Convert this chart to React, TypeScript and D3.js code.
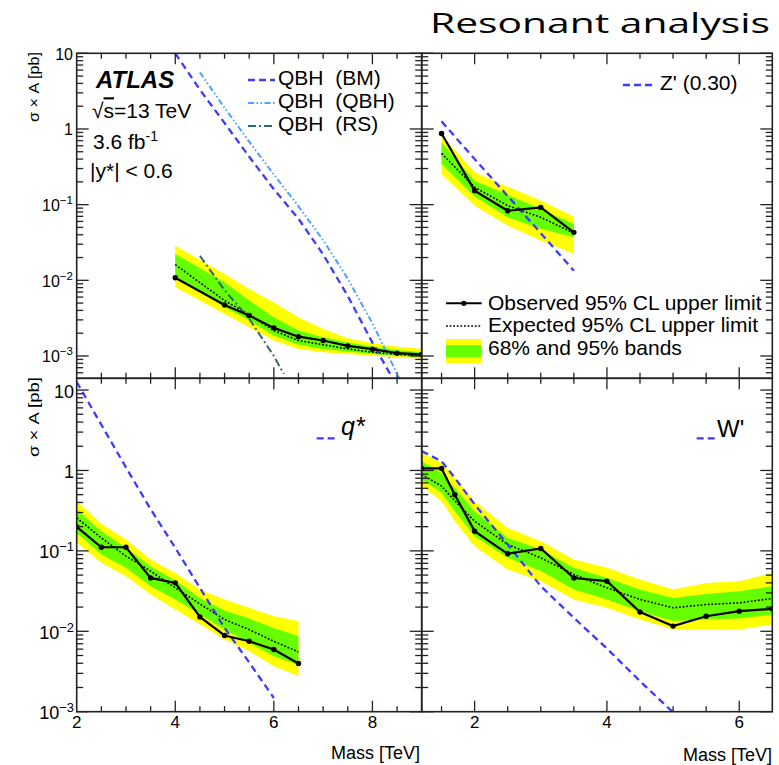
import React from 'react';
import * as d3 from 'd3';

// ---------------- data ----------------
// Top-left: QBH
const qbhMass = [4.0, 5.0, 5.5, 6.0, 6.5, 7.0, 7.5, 8.0, 8.5, 9.0];
const qbhObserved = [0.0108, 0.00473, 0.00342, 0.00235, 0.0018, 0.0016, 0.00136, 0.00123, 0.00109, 0.00105];
const qbhExpected = [0.0161, 0.0054, 0.00352, 0.00217, 0.0016, 0.00141, 0.00124, 0.00112, 0.00105, 0.001];
const qbhLo95 = [0.0081, 0.0036, 0.0024, 0.0016, 0.00124, 0.00112, 0.00106, 0.00101, 0.00096, 0.00091];
const qbhLo68 = [0.0115, 0.0044, 0.00295, 0.00186, 0.00141, 0.00124, 0.00115, 0.00106, 0.00101, 0.00096];
const qbhHi68 = [0.0223, 0.0094, 0.0054, 0.00324, 0.00217, 0.00177, 0.00151, 0.00133, 0.0012, 0.00112];
const qbhHi95 = [0.0287, 0.0121, 0.0077, 0.0051, 0.00324, 0.00228, 0.00171, 0.00147, 0.00133, 0.00124];
const qbhBMMass = [4.0, 4.5, 5.0, 5.5, 6.0, 6.5, 7.0, 7.5, 8.0, 8.4];
const qbhBM = [10, 3.3, 1.2, 0.43, 0.16, 0.065, 0.022, 0.0062, 0.0015, 0.00052];
const qbhQBHMass = [4.5, 5.0, 5.5, 6.0, 6.5, 7.0, 7.5, 8.0, 8.55];
const qbhQBH = [5.6, 1.9, 0.68, 0.25, 0.095, 0.034, 0.0105, 0.0027, 0.0005];
const qbhRSMass = [4.5, 5.0, 5.5, 6.0, 6.2];
const qbhRS = [0.021, 0.0074, 0.0031, 0.001, 0.00058];

// Top-right: Z'
const zMass = [1.5, 2.0, 2.5, 3.0, 3.5];
const zObserved = [0.87, 0.153, 0.083, 0.092, 0.043];
const zExpected = [0.476, 0.17, 0.097, 0.068, 0.042];
const zLo95 = [0.255, 0.097, 0.053, 0.0335, 0.0224];
const zLo68 = [0.344, 0.128, 0.068, 0.048, 0.037];
const zHi68 = [0.665, 0.207, 0.135, 0.0877, 0.0556];
const zHi95 = [0.83, 0.267, 0.173, 0.113, 0.069];
const zTheory = [1.26, 0.40, 0.13, 0.042, 0.0134];

// Bottom-left: q*
const qMass = [2.0, 2.5, 3.0, 3.5, 4.0, 4.5, 5.0, 5.5, 6.0, 6.5];
const qObserved = [0.199, 0.111, 0.111, 0.0461, 0.040, 0.0151, 0.00887, 0.00753, 0.00594, 0.00398];
const qExpected = [0.257, 0.145, 0.086, 0.056, 0.0347, 0.0219, 0.014, 0.0105, 0.0075, 0.00554];
const qLo95 = [0.126, 0.071, 0.0484, 0.0287, 0.0187, 0.0122, 0.0079, 0.00565, 0.00368, 0.00277];
const qLo68 = [0.167, 0.09, 0.0615, 0.0364, 0.0249, 0.0162, 0.0105, 0.00717, 0.0049, 0.0038];
const qHi68 = [0.327, 0.176, 0.109, 0.0645, 0.0428, 0.026, 0.0182, 0.0144, 0.011, 0.0087];
const qHi95 = [0.415, 0.217, 0.139, 0.078, 0.053, 0.033, 0.0249, 0.0196, 0.0154, 0.0134];
const qTheoryMass = [2.0, 2.5, 3.0, 3.5, 4.0, 4.5, 5.0, 5.5, 6.0];
const qTheory = [12.6, 3.7, 1.09, 0.33, 0.109, 0.0347, 0.011, 0.0041, 0.00148];

// Bottom-right: W'
const wMass = [1.2, 1.5, 1.7, 2.0, 2.5, 3.0, 3.5, 4.0, 4.5, 5.0, 5.5, 6.0, 6.5];
const wObserved = [1.06, 1.06, 0.50, 0.176, 0.092, 0.107, 0.046, 0.042, 0.0174, 0.0116, 0.0154, 0.0178, 0.019];
const wExpected = [0.89, 0.64, 0.42, 0.234, 0.12, 0.082, 0.051, 0.0347, 0.0249, 0.0196, 0.0215, 0.0226, 0.0256];
const wLo95 = [0.64, 0.415, 0.234, 0.114, 0.0587, 0.042, 0.0249, 0.0196, 0.014, 0.0105, 0.0105, 0.0105, 0.0122];
const wLo68 = [0.773, 0.527, 0.312, 0.152, 0.082, 0.056, 0.033, 0.0249, 0.0178, 0.0134, 0.014, 0.0144, 0.0162];
const wHi68 = [1.3, 0.93, 0.61, 0.312, 0.145, 0.104, 0.0615, 0.046, 0.033, 0.026, 0.029, 0.0315, 0.0364];
const wHi95 = [1.66, 1.24, 0.81, 0.415, 0.193, 0.132, 0.078, 0.0615, 0.044, 0.033, 0.04, 0.042, 0.053];
const wTheoryMass = [1.2, 1.5, 1.7, 2.0, 2.5, 3.0, 3.5, 4.0, 4.5, 5.0];
const wTheory = [1.74, 1.3, 0.81, 0.378, 0.12, 0.0364, 0.0147, 0.0061, 0.0024, 0.00098];

// axis ticks
const leftXMajor = [2, 4, 6, 8];
const rightXMajor = [2, 4, 6];
const topYDecades = [10, 1, 0.1, 0.01, 0.001];
const bottomYDecades = [10, 1, 0.1, 0.01, 0.001];

// ---------------- layout/style ----------------
const FONT = '"Liberation Sans", Arial, Helvetica, sans-serif';
const YELLOW = '#ffff00';
const GREEN = '#66ff00';
const BLUE = '#3c3cff';
const LIGHTBLUE = '#4aa2ff';
const TEAL = '#2f6a6a';
const FRAME = '#222';
const NB = '\u00a0';

const XL0 = 76.7, XMID = 421.7, XR1 = 772.3;
const YT0 = 53.3, YMID = 378.3, YB1 = 711.7;

const xLeft = d3.scaleLinear().domain([2, 9]).range([XL0, XMID]);
const xRight = d3.scaleLinear().domain([1.2, 6.5]).range([XMID, XR1]);
const yTop = d3.scaleLog().domain([5.07e-4, 10]).range([YMID, YT0]);
const yBot = d3.scaleLog().domain([1e-3, 14]).range([YB1, YMID]);

type S = (v: number) => number;

function area(xs: number[], lo: number[], hi: number[], sx: S, sy: S) {
  return d3.area<number>().x((_, i) => sx(xs[i])).y0((_, i) => sy(lo[i])).y1((_, i) => sy(hi[i]))(xs) || '';
}
function line(xs: number[], ys: number[], sx: S, sy: S) {
  return d3.line<number>().x((_, i) => sx(xs[i])).y((_, i) => sy(ys[i]))(xs) || '';
}

function Limits({ xs, obs, exp, lo95, lo68, hi68, hi95, sx, sy, children }: any) {
  return (
    <g>
      <path d={area(xs, lo95, hi95, sx, sy)} fill={YELLOW} />
      <path d={area(xs, lo68, hi68, sx, sy)} fill={GREEN} />
      <path d={line(xs, exp, sx, sy)} fill="none" stroke="#000" strokeWidth={1.6} strokeDasharray="1.8 1.8" />
      {children}
      <path d={line(xs, obs, sx, sy)} fill="none" stroke="#000" strokeWidth={2.2} />
      {xs.map((x: number, i: number) => (
        <circle key={i} cx={sx(x)} cy={sy(obs[i])} r={2.7} fill="#000" />
      ))}
    </g>
  );
}

function Ticks({ sx, sy, x0, x1, y0, y1, xMajor }: any) {
  const els: any[] = [];
  const [dx0, dx1] = sx.domain();
  for (let v = Math.ceil(dx0 * 2) / 2; v <= dx1 + 1e-9; v += 0.5) {
    const px = sx(v);
    if (Math.abs(px - x0) < 1 || Math.abs(px - x1) < 1) continue;
    const len = xMajor.includes(v) ? 11 : 5.5;
    els.push(<line key={'xb' + v} x1={px} x2={px} y1={y1} y2={y1 - len} />);
    els.push(<line key={'xt' + v} x1={px} x2={px} y1={y0} y2={y0 + len} />);
  }
  const [d0, d1] = sy.domain();
  for (let k = Math.floor(Math.log10(d0)); k <= Math.ceil(Math.log10(d1)); k++) {
    for (let j = 1; j <= 9; j++) {
      const v = j * Math.pow(10, k);
      if (v < d0 * 0.999 || v > d1 * 1.001) continue;
      const py = sy(v);
      const len = j === 1 ? 12 : 6.5;
      els.push(<line key={'yl' + k + '_' + j} x1={x0} x2={x0 + len} y1={py} y2={py} />);
      els.push(<line key={'yr' + k + '_' + j} x1={x1} x2={x1 - len} y1={py} y2={py} />);
    }
  }
  return <g stroke={FRAME} strokeWidth={1.3}>{els}</g>;
}

function YLabels({ sy, values, size, dy, xEnd }: any) {
  return (
    <g fontFamily={FONT} fontSize={size} fill="#000" textAnchor="end">
      {values.map((v: number) => {
        const k = Math.round(Math.log10(v));
        const y = sy(v) + dy;
        if (k === 0) return <text key={v} x={xEnd} y={y}>1</text>;
        if (k === 1) return <text key={v} x={xEnd} y={y}>10</text>;
        return (
          <text key={v} x={xEnd} y={y}>
            10<tspan dy={-7} fontSize={size * 0.72}>{'\u2212' + -k}</tspan>
          </text>
        );
      })}
    </g>
  );
}

function XLabels({ sx, values }: any) {
  return (
    <g fontFamily={FONT} fontSize={17} fill="#000" textAnchor="middle">
      {values.map((v: number) => (
        <text key={v} x={sx(v)} y={728}>{v}</text>
      ))}
    </g>
  );
}

function Frame({ x0, x1, y0, y1 }: any) {
  return <rect x={x0} y={y0} width={x1 - x0} height={y1 - y0} fill="none" stroke={FRAME} strokeWidth={1.6} />;
}

export default function App() {
  const dash = '7 4.5';
  return (
    <svg width={779} height={765} style={{ position: 'absolute', left: 0, top: 0, background: '#fff' }}>
      <defs>
        <clipPath id="cTL"><rect x={XL0} y={YT0} width={XMID - XL0} height={YMID - YT0} /></clipPath>
        <clipPath id="cTR"><rect x={XMID} y={YT0} width={XR1 - XMID} height={YMID - YT0} /></clipPath>
        <clipPath id="cBL"><rect x={XL0} y={YMID} width={XMID - XL0} height={YB1 - YMID} /></clipPath>
        <clipPath id="cBR"><rect x={XMID} y={YMID} width={XR1 - XMID} height={YB1 - YMID} /></clipPath>
      </defs>

      <text x={430} y={33} fontFamily='"Open Sans", "Noto Sans", sans-serif' fontSize={28}
        textLength={340} lengthAdjust="spacingAndGlyphs" fill="#000">Resonant analysis</text>

      {/* Top-left: QBH */}
      <g clipPath="url(#cTL)">
        <Limits xs={qbhMass} obs={qbhObserved} exp={qbhExpected} lo95={qbhLo95} lo68={qbhLo68}
          hi68={qbhHi68} hi95={qbhHi95} sx={xLeft} sy={yTop}>
          <path d={line(qbhRSMass, qbhRS, xLeft, yTop)} fill="none" stroke={TEAL} strokeWidth={2} strokeDasharray="8 3 2 3" />
          <path d={line(qbhQBHMass, qbhQBH, xLeft, yTop)} fill="none" stroke={LIGHTBLUE} strokeWidth={2} strokeDasharray="6 2.5 1.5 2.5 1.5 2.5" />
          <path d={line(qbhBMMass, qbhBM, xLeft, yTop)} fill="none" stroke={BLUE} strokeWidth={2.3} strokeDasharray={dash} />
        </Limits>
      </g>

      {/* Top-right: Z' */}
      <g clipPath="url(#cTR)">
        <Limits xs={zMass} obs={zObserved} exp={zExpected} lo95={zLo95} lo68={zLo68}
          hi68={zHi68} hi95={zHi95} sx={xRight} sy={yTop}>
          <path d={line(zMass, zTheory, xRight, yTop)} fill="none" stroke={BLUE} strokeWidth={2.3} strokeDasharray={dash} />
        </Limits>
      </g>

      {/* Bottom-left: q* */}
      <g clipPath="url(#cBL)">
        <Limits xs={qMass} obs={qObserved} exp={qExpected} lo95={qLo95} lo68={qLo68}
          hi68={qHi68} hi95={qHi95} sx={xLeft} sy={yBot}>
          <path d={line(qTheoryMass, qTheory, xLeft, yBot)} fill="none" stroke={BLUE} strokeWidth={2.3} strokeDasharray={dash} />
        </Limits>
      </g>

      {/* Bottom-right: W' */}
      <g clipPath="url(#cBR)">
        <Limits xs={wMass} obs={wObserved} exp={wExpected} lo95={wLo95} lo68={wLo68}
          hi68={wHi68} hi95={wHi95} sx={xRight} sy={yBot}>
          <path d={line(wTheoryMass, wTheory, xRight, yBot)} fill="none" stroke={BLUE} strokeWidth={2.3} strokeDasharray={dash} />
        </Limits>
      </g>

      {/* ticks & frames */}
      <Ticks sx={xLeft} sy={yTop} x0={XL0} x1={XMID} y0={YT0} y1={YMID} xMajor={leftXMajor} />
      <Ticks sx={xRight} sy={yTop} x0={XMID} x1={XR1} y0={YT0} y1={YMID} xMajor={rightXMajor} />
      <Ticks sx={xLeft} sy={yBot} x0={XL0} x1={XMID} y0={YMID} y1={YB1} xMajor={leftXMajor} />
      <Ticks sx={xRight} sy={yBot} x0={XMID} x1={XR1} y0={YMID} y1={YB1} xMajor={rightXMajor} />
      <Frame x0={XL0} x1={XMID} y0={YT0} y1={YMID} />
      <Frame x0={XMID} x1={XR1} y0={YT0} y1={YMID} />
      <Frame x0={XL0} x1={XMID} y0={YMID} y1={YB1} />
      <Frame x0={XMID} x1={XR1} y0={YMID} y1={YB1} />

      {/* axis labels */}
      <YLabels sy={yTop} values={topYDecades} size={16} dy={6.5} xEnd={73} />
      <YLabels sy={yBot} values={bottomYDecades} size={18} dy={7.5} xEnd={74} />
      <XLabels sx={xLeft} values={leftXMajor} />
      <XLabels sx={xRight} values={rightXMajor} />

      <text transform="translate(38.5,52) rotate(-90)" textAnchor="end" fontFamily={FONT} fontSize={14}
        textLength={70} lengthAdjust="spacingAndGlyphs">σ × A [pb]</text>
      <text transform="translate(38.5,377) rotate(-90)" textAnchor="end" fontFamily={FONT} fontSize={15}
        textLength={80} lengthAdjust="spacingAndGlyphs">σ × A [pb]</text>
      <text x={420} y={759} textAnchor="end" fontFamily={FONT} fontSize={18}>Mass [TeV]</text>
      <text x={772} y={761} textAnchor="end" fontFamily={FONT} fontSize={18}>Mass [TeV]</text>

      {/* top-left annotations */}
      <g fontFamily={FONT} fill="#000">
        <text x={96} y={88} fontSize={24} fontWeight="bold" fontStyle="italic">ATLAS</text>
        <text x={92} y={118.3} fontSize={21}>√<tspan style={{ textDecoration: 'overline' }}>s</tspan>=13 TeV</text>
        <text x={93} y={149.3} fontSize={21}>3.6 fb<tspan dy={-8} fontSize={14}>-1</tspan></text>
        <text x={90} y={178.3} fontSize={21}>|y*| &lt; 0.6</text>
      </g>
      <g fontFamily={FONT} fontSize={21} fill="#000">
        <line x1={248} x2={275} y1={80} y2={80} stroke={BLUE} strokeWidth={2.3} strokeDasharray="7 4" />
        <text x={278} y={85}>{'QBH' + NB + NB + '(BM)'}</text>
        <line x1={248} x2={275} y1={103} y2={103} stroke={LIGHTBLUE} strokeWidth={2} strokeDasharray="6 2.5 1.5 2.5 1.5 2.5" />
        <text x={278} y={108.3}>{'QBH' + NB + NB + '(QBH)'}</text>
        <line x1={248} x2={275} y1={126} y2={126} stroke={TEAL} strokeWidth={2} strokeDasharray="8 3 2 3" />
        <text x={278} y={130.7}>{'QBH' + NB + NB + '(RS)'}</text>
      </g>

      {/* top-right annotations */}
      <g fontFamily={FONT} fontSize={21} fill="#000">
        <line x1={623} x2={655} y1={85} y2={85} stroke={BLUE} strokeWidth={2.3} strokeDasharray="7 4" />
        <text x={660} y={90}>Z' (0.30)</text>

        <line x1={446} x2={481.7} y1={303.3} y2={303.3} stroke="#000" strokeWidth={2} />
        <circle cx={463.8} cy={303.3} r={2.6} fill="#000" />
        <text x={488} y={310}>Observed 95% CL upper limit</text>
        <line x1={446} x2={481.7} y1={326} y2={326} stroke="#000" strokeWidth={1.6} strokeDasharray="1.8 1.8" />
        <text x={488} y={331.7}>Expected 95% CL upper limit</text>
        <rect x={446} y={339} width={35.5} height={24.3} fill={YELLOW} />
        <rect x={446} y={345} width={35.5} height={12} fill={GREEN} />
        <text x={488} y={355}>68% and 95% bands</text>
      </g>

      {/* bottom annotations */}
      <line x1={316.7} x2={337} y1={438.3} y2={438.3} stroke={BLUE} strokeWidth={2.3} strokeDasharray="7 4" />
      <text x={341} y={435} fontFamily={FONT} fontSize={25} fontStyle="italic">q*</text>
      <line x1={696.7} x2={715} y1={438.3} y2={438.3} stroke={BLUE} strokeWidth={2.3} strokeDasharray="7 4" />
      <text x={717} y={436.7} fontFamily={FONT} fontSize={24}>W'</text>
    </svg>
  );
}
